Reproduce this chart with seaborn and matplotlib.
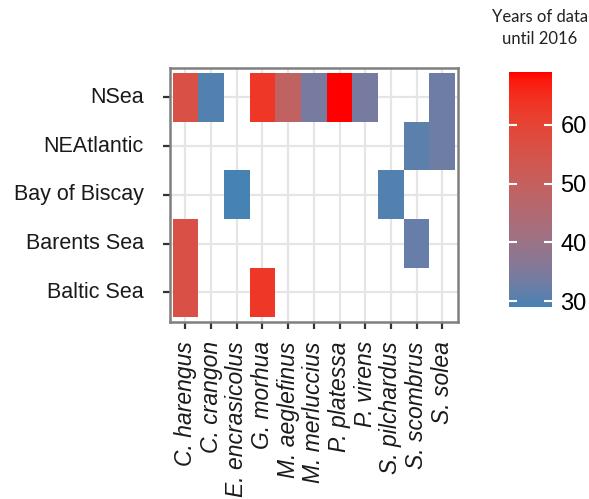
import numpy as np
import pandas as pd
import matplotlib
matplotlib.use("Agg")
import matplotlib.pyplot as plt
import seaborn as sns
from matplotlib.colors import ListedColormap

# ---- data ----
regions = ["NSea", "NEAtlantic", "Bay of Biscay", "Barents Sea", "Baltic Sea"]
species = ["C. harengus", "C. crangon", "E. encrasicolus", "G. morhua", "M. aeglefinus",
           "M. merluccius", "P. platessa", "P. virens", "S. pilchardus", "S. scombrus", "S. solea"]
obs_region = ["NSea", "NSea", "NSea", "NSea", "NSea", "NSea", "NSea", "NSea",
              "NEAtlantic", "NEAtlantic",
              "Bay of Biscay", "Bay of Biscay",
              "Barents Sea", "Barents Sea",
              "Baltic Sea", "Baltic Sea"]
obs_species = ["C. harengus", "C. crangon", "G. morhua", "M. aeglefinus", "M. merluccius",
               "P. platessa", "P. virens", "S. solea",
               "S. scombrus", "S. solea",
               "E. encrasicolus", "S. pilchardus",
               "C. harengus", "S. scombrus",
               "C. harengus", "G. morhua"]
obs_years = [56, 30, 63, 49, 34, 69, 34, 33,
             31, 33,
             29, 30,
             56, 32,
             56, 63]
cbar_ticks = [30, 40, 50, 60]

# ---- colormap: steelblue -> red interpolated in CIELAB (like ggplot) ----
def srgb_to_lab(rgb):
    rgb = np.asarray(rgb, float)
    lin = np.where(rgb <= 0.04045, rgb / 12.92, ((rgb + 0.055) / 1.055) ** 2.4)
    M = np.array([[0.4124564, 0.3575761, 0.1804375],
                  [0.2126729, 0.7151522, 0.0721750],
                  [0.0193339, 0.1191920, 0.9503041]])
    xyz = M @ lin
    wp = np.array([0.95047, 1.0, 1.08883])
    t = xyz / wp
    f = np.where(t > (6 / 29) ** 3, np.cbrt(t), t / (3 * (6 / 29) ** 2) + 4 / 29)
    return np.array([116 * f[1] - 16, 500 * (f[0] - f[1]), 200 * (f[1] - f[2])])

def lab_to_srgb(lab):
    L, a, b = lab
    fy = (L + 16) / 116
    fx = fy + a / 500
    fz = fy - b / 200
    def finv(f):
        return np.where(f > 6 / 29, f ** 3, 3 * (6 / 29) ** 2 * (f - 4 / 29))
    wp = np.array([0.95047, 1.0, 1.08883])
    xyz = np.array([finv(fx), finv(fy), finv(fz)]) * wp
    Minv = np.array([[3.2404542, -1.5371385, -0.4985314],
                     [-0.9692660, 1.8760108, 0.0415560],
                     [0.0556434, -0.2040259, 1.0572252]])
    lin = Minv @ xyz
    lin = np.clip(lin, 0, 1)
    srgb = np.where(lin <= 0.0031308, 12.92 * lin, 1.055 * lin ** (1 / 2.4) - 0.055)
    return np.clip(srgb, 0, 1)

lo = srgb_to_lab(np.array([70, 130, 180]) / 255)
hi = srgb_to_lab(np.array([255, 0, 0]) / 255)
cols = [lab_to_srgb(lo + (hi - lo) * t) for t in np.linspace(0, 1, 256)]
cmap = ListedColormap(cols)

# ---- table ----
df = pd.DataFrame({"region": obs_region, "species": obs_species, "years": obs_years})
mat = df.pivot(index="region", columns="species", values="years").reindex(index=regions, columns=species)

# ---- figure ----
W, H = 589, 499
fig = plt.figure(figsize=(W / 100, H / 100), dpi=100)
ax = fig.add_axes([170 / W, 1 - 321.7 / H, 287.7 / W, 253.7 / H])
cax = fig.add_axes([509 / W, 1 - 307 / H, 43 / W, 235 / H])

sns.heatmap(mat, ax=ax, cmap=cmap, vmin=29, vmax=69,
            cbar_ax=cax, linewidths=0, square=False)

ax.set_xlim(-0.1, len(species) + 0.1)
ax.set_ylim(len(regions) + 0.1, -0.1)
ax.set_xlabel("")
ax.set_ylabel("")
ax.set_facecolor("white")
ax.set_axisbelow(True)
ax.grid(True, color="#E5E5E5", linewidth=1.6, zorder=0)
for c in ax.collections:
    c.set_zorder(2)
for s in ax.spines.values():
    s.set_visible(True)
    s.set_color("#7F7F7F")
    s.set_linewidth(1.8)
    s.set_zorder(3)

ax.set_xticks(np.arange(len(species)) + 0.5)
ax.set_xticklabels(species, rotation=90, fontsize=16.5, fontstyle="italic",
                   family="Liberation Sans", color="#1A1A1A", va="top", ha="center")
ax.set_yticks(np.arange(len(regions)) + 0.5)
ax.set_yticklabels(regions, rotation=0, fontsize=15.5, family="Liberation Sans", color="#1A1A1A")
ax.tick_params(axis="both", length=5, width=1.6, color="#333333",
               left=True, bottom=True)
ax.tick_params(axis="y", pad=14)
ax.tick_params(axis="x", pad=9)

# ---- colorbar ----
cb = ax.collections[0].colorbar
cb.outline.set_visible(False)
cb.set_ticks(cbar_ticks)
cax.tick_params(axis="y", which="both", direction="in", length=6, width=1.5, color="white",
                left=True, right=True, labelleft=False, labelright=True,
                labelsize=17, pad=6)
for lab in cax.get_yticklabels():
    lab.set_family("Liberation Sans")
    lab.set_color("black")

fig.text(540 / W, 1 - 9 / H, "Years of data\nuntil 2016", ha="center", va="top",
         fontsize=12, family="Lato", linespacing=1.5, color="#222222")

fig.savefig("out.png", dpi=100, facecolor="white")
